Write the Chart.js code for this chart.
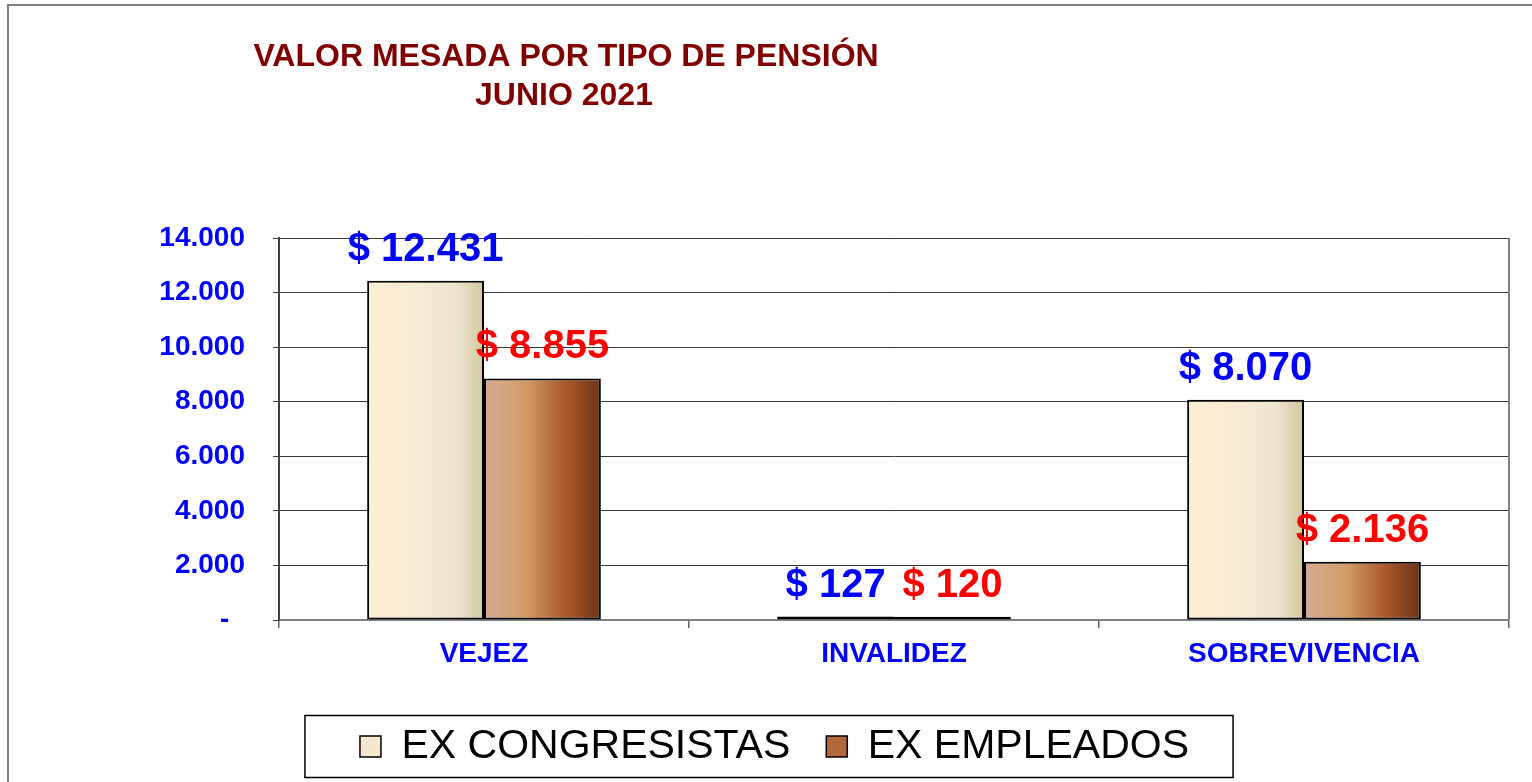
<!DOCTYPE html>
<html>
<head>
<meta charset="utf-8">
<title>Valor mesada por tipo de pensión</title>
<script src="https://cdn.jsdelivr.net/npm/chart.js@4/dist/chart.umd.min.js"></script>
<style>
  body { margin: 0; background: #fff; }
  #wrap { position: relative; width: 1532px; height: 782px; }
  #frame { position: absolute; left: 7px; top: 4px; right: -10px; bottom: -10px;
           border-left: 2px solid #808080; border-top: 2px solid #808080; pointer-events: none; }
</style>
</head>
<body>
<div id="wrap">
  <canvas id="myChart"></canvas>
  <div id="frame"></div>
</div>
<script>
// data
var categories = ['VEJEZ', 'INVALIDEZ', 'SOBREVIVENCIA'];
var congresistas = [12431, 127, 8070];
var empleados = [8855, 120, 2136];
var seriesNames = ['EX CONGRESISTAS', 'EX EMPLEADOS'];
var yTicks = [0, 2000, 4000, 6000, 8000, 10000, 12000, 14000];
var titleLines = ['VALOR MESADA POR TIPO DE PENSIÓN', 'JUNIO 2021'];

var FONT = "'Liberation Sans', Arial, sans-serif";

function fmt(v) {
  return String(v).replace(/\B(?=(\d{3})+(?!\d))/g, '.');
}

// horizontal gradient per bar, built from the bar element's own position
function barFill(stops, fallback) {
  return function (c) {
    var el = c.element;
    if (!el || el.x === undefined || !el.width) return fallback;
    var g = c.chart.ctx.createLinearGradient(el.x - el.width / 2, 0, el.x + el.width / 2, 0);
    stops.forEach(function (s) { g.addColorStop(s[0], s[1]); });
    return g;
  };
}

var creamStops = [[0, '#fdefd2'], [0.45, '#f6ead4'], [0.75, '#ede5d0'], [1, '#d4c8a0']];
var brownStops = [[0, '#d5ab93'], [0.35, '#d39d6a'], [0.7, '#a9582b'], [1, '#6a3416']];

var titlePlugin = {
  id: 'titleText',
  afterDraw: function (chart) {
    var ctx = chart.ctx;
    ctx.save();
    ctx.fillStyle = '#800000';
    ctx.font = 'bold 32px ' + FONT;
    ctx.textAlign = 'center';
    ctx.textBaseline = 'middle';
    ctx.fillText(titleLines[0], 566, 57);
    ctx.fillText(titleLines[1], 564, 96);
    ctx.restore();
  }
};

var valueLabels = {
  id: 'valueLabels',
  afterDatasetsDraw: function (chart) {
    var ctx = chart.ctx;
    var colors = ['#0000ff', '#ff0000'];
    ctx.save();
    ctx.font = 'bold 40px ' + FONT;
    ctx.textAlign = 'center';
    ctx.textBaseline = 'alphabetic';
    chart.data.datasets.forEach(function (ds, i) {
      ctx.fillStyle = colors[i];
      chart.getDatasetMeta(i).data.forEach(function (el, j) {
        ctx.fillText('$ ' + fmt(ds.data[j]), el.x, el.y - 20);
      });
    });
    ctx.restore();
  }
};

var boxes = {
  id: 'boxes',
  afterDraw: function (chart) {
    var ctx = chart.ctx;
    var a = chart.chartArea;
    ctx.save();
    // right edge of plot area
    ctx.strokeStyle = '#808080';
    ctx.lineWidth = 2;
    ctx.beginPath();
    ctx.moveTo(a.right, a.top);
    ctx.lineTo(a.right, a.bottom);
    ctx.stroke();
    // frame around legend
    var hb = chart.legend.legendHitBoxes;
    if (hb && hb.length) {
      var first = hb[0], last = hb[hb.length - 1];
      var left = first.left - 55;
      var right = last.left + last.width + 44;
      var mid = first.top + first.height / 2;
      ctx.strokeStyle = '#000';
      ctx.lineWidth = 1.5;
      ctx.strokeRect(left, mid - 31, right - left, 62);
    }
    ctx.restore();
  }
};

var ctx = document.getElementById('myChart').getContext('2d');
var myChart = new Chart(ctx, {
  type: 'bar',
  data: {
    labels: categories,
    datasets: [{
      label: seriesNames[0],
      data: congresistas,
      backgroundColor: barFill(creamStops, '#f5ead2'),
      borderColor: '#000',
      borderWidth: 2,
      borderSkipped: false,
      categoryPercentage: 0.57,
      barPercentage: 1.0
    }, {
      label: seriesNames[1],
      data: empleados,
      backgroundColor: barFill(brownStops, '#b06a3c'),
      borderColor: '#000',
      borderWidth: 2,
      borderSkipped: false,
      categoryPercentage: 0.57,
      barPercentage: 1.0
    }]
  },
  options: {
    responsive: true,
    maintainAspectRatio: false,
    animation: false,
    layout: { padding: { top: 238, right: 23, bottom: 5, left: 40 } },
    plugins: {
      title: { display: false },
      tooltip: { enabled: false },
      legend: {
        position: 'bottom',
        labels: {
          boxWidth: 21,
          boxHeight: 21,
          padding: 36,
          color: '#000',
          font: { family: FONT, size: 41 },
          generateLabels: function (chart) {
            var fills = ['#f3e8cf', '#b2683a'];
            return chart.data.datasets.map(function (ds, i) {
              return {
                text: ds.label,
                fillStyle: fills[i],
                strokeStyle: '#000',
                lineWidth: 1.5,
                fontColor: '#000',
                datasetIndex: i
              };
            });
          }
        }
      }
    },
    scales: {
      x: {
        grid: { offset: true, drawOnChartArea: false, tickLength: 8, color: '#606060', lineWidth: 1.5 },
        border: { color: '#808080', width: 2 },
        ticks: { color: '#0000ff', padding: 9, font: { family: FONT, size: 28, weight: 'bold' } },
        afterFit: function (s) { s.height = 70; }
      },
      y: {
        min: 0,
        max: 14000,
        afterBuildTicks: function (s) { s.ticks = yTicks.map(function (v) { return { value: v }; }); },
        grid: { color: '#3a3a3a', lineWidth: 1, tickLength: 6 },
        border: { color: '#404040', width: 2 },
        ticks: {
          color: '#0000ff',
          padding: 28,
          font: { family: FONT, size: 28, weight: 'bold' },
          callback: function (v) { return v === 0 ? '-  ' : fmt(v); }
        },
        afterFit: function (s) { s.width = 239; }
      }
    }
  },
  plugins: [titlePlugin, valueLabels, boxes]
});
// second pass so the bar gradients can use the laid-out bar positions
myChart.update();
</script>
</body>
</html>
